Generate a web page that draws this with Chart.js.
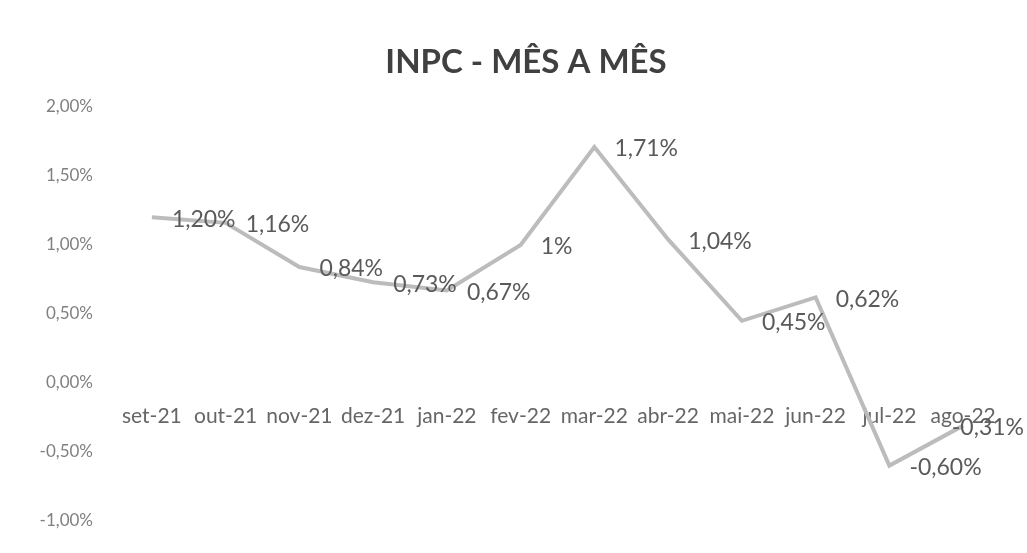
<!DOCTYPE html>
<html>
<head>
<meta charset="utf-8">
<script src="https://cdn.jsdelivr.net/npm/chart.js@4"></script>
<style>
  html, body { margin: 0; padding: 0; background: #fff; }
  #wrap { width: 1027px; height: 553px; }
</style>
</head>
<body>
<div id="wrap"><canvas id="c"></canvas></div>
<script>
// ── DATA ──────────────────────────────────────────────────────
const months = ['set-21', 'out-21', 'nov-21', 'dez-21', 'jan-22', 'fev-22',
                'mar-22', 'abr-22', 'mai-22', 'jun-22', 'jul-22', 'ago-22'];
const inpc = [1.20, 1.16, 0.84, 0.73, 0.67, 1.00, 1.71, 1.04, 0.45, 0.62, -0.60, -0.31];
const pointLabels = ['1,20%', '1,16%', '0,84%', '0,73%', '0,67%', '1%',
                     '1,71%', '1,04%', '0,45%', '0,62%', '-0,60%', '-0,31%'];
const titleText = 'INPC - MÊS A MÊS';

const FONT = 'Lato, "Open Sans", sans-serif';

// Excel-style labels, placed to the right of each point (pulled back in if they'd overflow)
const rightLabels = {
  id: 'rightLabels',
  afterDatasetsDraw(chart) {
    const ctx = chart.ctx;
    const meta = chart.getDatasetMeta(0);
    ctx.save();
    ctx.font = '23px ' + FONT;
    ctx.fillStyle = '#5a5a5a';
    ctx.textBaseline = 'middle';
    ctx.textAlign = 'left';
    meta.data.forEach((pt, i) => {
      const w = ctx.measureText(pointLabels[i]).width;
      const x = Math.min(pt.x + 20, chart.width - 3 - w);
      ctx.fillText(pointLabels[i], x, pt.y + 2);
    });
    ctx.restore();
  }
};

// title sits a little right of the canvas centre, as in the original sheet
const topTitle = {
  id: 'topTitle',
  afterDraw(chart) {
    const ctx = chart.ctx;
    ctx.save();
    ctx.font = 'bold 33px ' + FONT;
    ctx.fillStyle = '#404040';
    ctx.textAlign = 'center';
    ctx.textBaseline = 'middle';
    ctx.fillText(titleText, 526, 62);
    ctx.restore();
  }
};

new Chart(document.getElementById('c'), {
  type: 'line',
  data: {
    labels: months,
    datasets: [{
      data: inpc,
      borderColor: '#bcbcbc',
      borderWidth: 4,
      pointRadius: 0,
      tension: 0,
      fill: false
    }]
  },
  options: {
    responsive: true,
    maintainAspectRatio: false,
    animation: false,
    layout: { padding: { top: 107, left: 0, right: 27, bottom: 32 } },
    plugins: {
      legend: { display: false },
      tooltip: { enabled: false },
      title: { display: false }
    },
    scales: {
      x: {
        type: 'category',
        offset: true,
        position: { y: 0 },
        grid: { display: false },
        border: { display: false },
        afterFit: s => { s.paddingRight = 0; s.paddingLeft = 0; },
        ticks: {
          color: '#666',
          font: { family: FONT, size: 21 },
          padding: 13,
          maxRotation: 0,
          autoSkip: false
        }
      },
      y: {
        min: -1,
        max: 2,
        grid: { display: false, drawTicks: false },
        border: { display: false },
        afterFit: s => { s.width = 115; },
        ticks: {
          stepSize: 0.5,
          color: '#808080',
          padding: 22,
          font: { family: FONT, size: 17 },
          callback: v => v.toFixed(2).replace('.', ',') + '%'
        }
      }
    }
  },
  plugins: [rightLabels, topTitle]
});
</script>
</body>
</html>
